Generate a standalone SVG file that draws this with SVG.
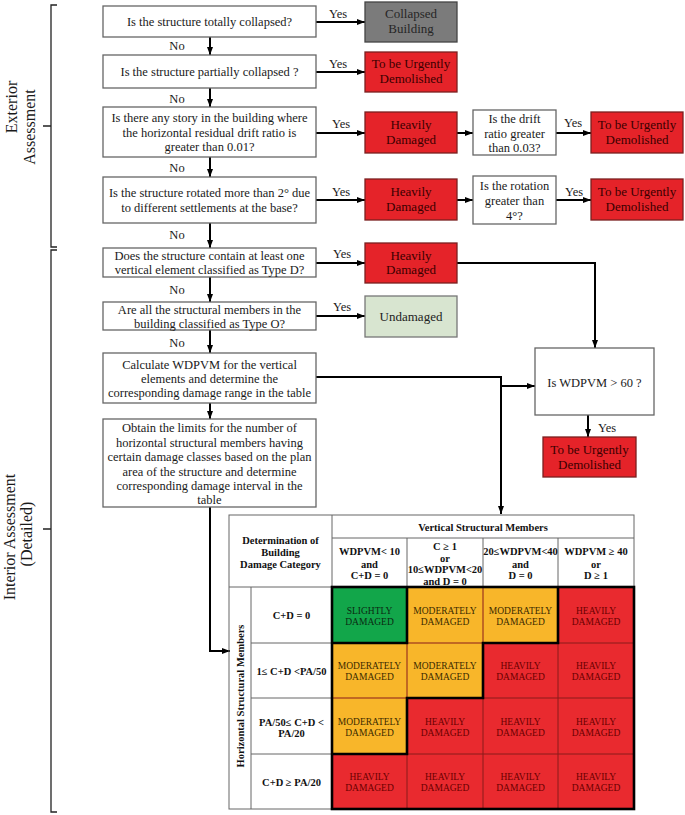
<svg xmlns="http://www.w3.org/2000/svg" width="685" height="815" viewBox="0 0 685 815">
<style>
text{font-family:"Liberation Serif","Times New Roman",serif}
.q{font-size:12.5px;text-anchor:middle;fill:#1a1a1a}
.lbl{font-size:12.5px;text-anchor:middle;fill:#1a1a1a}
.side{font-size:16px;text-anchor:middle;fill:#1a1a1a}
.box{fill:#fff;stroke:#666;stroke-width:1.3}
.red{fill:#e52329;stroke:#7a2020;stroke-width:1.3}
.gray{fill:#7b7b7b;stroke:#444;stroke-width:1.3}
.grn{fill:#d8e5d0;stroke:#777;stroke-width:1.3}
.rt{font-size:13px;text-anchor:middle}
.gt{font-size:13px;text-anchor:middle}
.c{fill:none;stroke:#000;stroke-width:2}
.br{fill:none;stroke:#222;stroke-width:1.3}
.th{font-size:10.5px;font-weight:bold;text-anchor:middle;fill:#111}
.ct{font-size:9.5px;text-anchor:middle}
.thin{fill:none;stroke:#666;stroke-width:1}
.thick{fill:none;stroke:#000;stroke-width:2.6}
</style>
<defs>
<marker id="ah" markerWidth="8" markerHeight="6" refX="8" refY="3" orient="auto" markerUnits="userSpaceOnUse">
<path d="M0,0 L8,3 L0,6 z" fill="#000"/>
</marker>
</defs>

<g id="brackets">
<path class="br" d="M57,5 H51 V247 H57 M43,126 H51"/>
<path class="br" d="M57,250 H51 V812 H57 M43,529 H51"/>
<text class="side" transform="translate(17,107) rotate(-90)">Exterior</text>
<text class="side" transform="translate(35,127) rotate(-90)">Assessment</text>
<text class="side" transform="translate(15,537) rotate(-90)">Interior Assessment</text>
<text class="side" transform="translate(32,534) rotate(-90)">(Detailed)</text>
</g>

<g id="connectors">
<path class="c" marker-end="url(#ah)" d="M210,37 V55"/>
<path class="c" marker-end="url(#ah)" d="M210,88 V107"/>
<path class="c" marker-end="url(#ah)" d="M210,157 V177"/>
<path class="c" marker-end="url(#ah)" d="M210,223 V248"/>
<path class="c" marker-end="url(#ah)" d="M210,277 V302"/>
<path class="c" marker-end="url(#ah)" d="M210,330 V353"/>
<path class="c" marker-end="url(#ah)" d="M210,403 V419"/>
<path class="c" marker-end="url(#ah)" d="M210,507 V651 H230"/>
<path class="c" marker-end="url(#ah)" d="M316,22 H365"/>
<path class="c" marker-end="url(#ah)" d="M316,72 H365"/>
<path class="c" marker-end="url(#ah)" d="M316,133 H365"/>
<path class="c" marker-end="url(#ah)" d="M457,133 H473"/>
<path class="c" marker-end="url(#ah)" d="M556,133 H591"/>
<path class="c" marker-end="url(#ah)" d="M316,200 H365"/>
<path class="c" marker-end="url(#ah)" d="M457,200 H473"/>
<path class="c" marker-end="url(#ah)" d="M556,200 H591"/>
<path class="c" marker-end="url(#ah)" d="M316,263 H365"/>
<path class="c" marker-end="url(#ah)" d="M316,316 H365"/>
<path class="c" marker-end="url(#ah)" d="M457,263 H595 V348"/>
<path class="c" marker-end="url(#ah)" d="M316,377 H501 V514"/>
<path class="c" marker-end="url(#ah)" d="M501,386 H535"/>
<path class="c" marker-end="url(#ah)" d="M588,415 V437"/>
<text class="lbl" x="338" y="18">Yes</text>
<text class="lbl" x="338" y="68">Yes</text>
<text class="lbl" x="341" y="128">Yes</text>
<text class="lbl" x="573" y="127">Yes</text>
<text class="lbl" x="341" y="196">Yes</text>
<text class="lbl" x="574" y="196">Yes</text>
<text class="lbl" x="342" y="258">Yes</text>
<text class="lbl" x="342" y="311">Yes</text>
<text class="lbl" x="607" y="432">Yes</text>
<text class="lbl" x="177" y="50">No</text>
<text class="lbl" x="177" y="103">No</text>
<text class="lbl" x="177" y="172">No</text>
<text class="lbl" x="177" y="239">No</text>
<text class="lbl" x="177" y="294">No</text>
<text class="lbl" x="177" y="347">No</text>
</g>

<g id="q1"><rect class="box" x="103" y="6" width="213" height="31"/>
<text class="q" x="209.5" y="26">Is the structure totally collapsed?</text></g>
<g id="q2"><rect class="box" x="103" y="55" width="213" height="33"/>
<text class="q" x="209.5" y="76">Is the structure partially collapsed ?</text></g>
<g id="q3"><rect class="box" x="103" y="107" width="213" height="50"/>
<text class="q" x="209.5" y="122">Is there any story in the building where</text>
<text class="q" x="209.5" y="136.5">the horizontal residual drift ratio is</text>
<text class="q" x="209.5" y="151">greater than 0.01?</text></g>
<g id="q4"><rect class="box" x="103" y="177" width="213" height="46"/>
<text class="q" x="209.5" y="197">Is the structure rotated more than 2° due</text>
<text class="q" x="209.5" y="211.5">to different settlements at the base?</text></g>
<g id="q5"><rect class="box" x="103" y="248" width="213" height="29"/>
<text class="q" x="209.5" y="259.5">Does the structure contain at least one</text>
<text class="q" x="209.5" y="274">vertical element classified as Type D?</text></g>
<g id="q6"><rect class="box" x="103" y="302" width="213" height="28"/>
<text class="q" x="209.5" y="313.5">Are all the structural members in the</text>
<text class="q" x="209.5" y="327.5">building classified as Type O?</text></g>
<g id="q7"><rect class="box" x="103" y="353" width="213" height="50"/>
<text class="q" x="209.5" y="369">Calculate WDPVM for the vertical</text>
<text class="q" x="209.5" y="382.5">elements and determine the</text>
<text class="q" x="209.5" y="396.5">corresponding damage range in the table</text></g>
<g id="q8"><rect class="box" x="103" y="419" width="213" height="88"/>
<text class="q" x="209.5" y="432">Obtain the limits for the number of</text>
<text class="q" x="209.5" y="446.5">horizontal structural members having</text>
<text class="q" x="209.5" y="461">certain damage classes based on the plan</text>
<text class="q" x="209.5" y="475.5">area of the structure and determine</text>
<text class="q" x="209.5" y="490">corresponding damage interval in the</text>
<text class="q" x="209.5" y="504">table</text></g>

<g id="collapsed"><rect class="gray" x="365" y="2" width="92" height="40"/>
<text class="gt" fill="#262626" x="411" y="18">Collapsed</text><text class="gt" fill="#262626" x="411" y="33">Building</text></g>
<g id="urgent1"><rect class="red" x="365" y="52" width="92" height="40"/>
<text class="rt" fill="#3a0000" x="411" y="68">To be Urgently</text><text class="rt" fill="#3a0000" x="411" y="83">Demolished</text></g>
<g id="heavy1"><rect class="red" x="365" y="112" width="92" height="41"/>
<text class="rt" fill="#3a0000" x="411" y="129">Heavily</text><text class="rt" fill="#3a0000" x="411" y="144">Damaged</text></g>
<g id="drift"><rect class="box" x="473" y="110" width="83" height="45"/>
<text class="q" x="514.5" y="123">Is the drift</text>
<text class="q" x="514.5" y="137.5">ratio greater</text>
<text class="q" x="514.5" y="152">than 0.03?</text></g>
<g id="urgent2"><rect class="red" x="591" y="112" width="92" height="41"/>
<text class="rt" fill="#3a0000" x="637" y="129">To be Urgently</text><text class="rt" fill="#3a0000" x="637" y="144">Demolished</text></g>
<g id="heavy2"><rect class="red" x="365" y="179" width="92" height="41"/>
<text class="rt" fill="#3a0000" x="411" y="196">Heavily</text><text class="rt" fill="#3a0000" x="411" y="211">Damaged</text></g>
<g id="rotation"><rect class="box" x="473" y="176" width="83" height="48"/>
<text class="q" x="514.5" y="190">Is the rotation</text>
<text class="q" x="514.5" y="205">greater than</text>
<text class="q" x="514.5" y="219.5">4°?</text></g>
<g id="urgent3"><rect class="red" x="591" y="179" width="92" height="41"/>
<text class="rt" fill="#3a0000" x="637" y="196">To be Urgently</text><text class="rt" fill="#3a0000" x="637" y="211">Demolished</text></g>
<g id="heavy3"><rect class="red" x="365" y="243" width="92" height="40"/>
<text class="rt" fill="#3a0000" x="411" y="260">Heavily</text><text class="rt" fill="#3a0000" x="411" y="274">Damaged</text></g>
<g id="undamaged"><rect class="grn" x="365" y="296" width="92" height="41"/>
<text class="gt" fill="#222" x="411" y="321">Undamaged</text></g>
<g id="wdpvm60"><rect class="box" x="535" y="348" width="119" height="67"/>
<text class="q" x="594.5" y="387">Is WDPVM &gt; 60 ?</text></g>
<g id="urgent4"><rect class="red" x="543" y="437" width="93" height="40"/>
<text class="rt" fill="#3a0000" x="589.5" y="454">To be Urgently</text><text class="rt" fill="#3a0000" x="589.5" y="469">Demolished</text></g>

<g id="table">
<rect x="332" y="587" width="75" height="56" fill="#12a64a"/>
<rect x="407" y="587" width="151" height="56" fill="#f8b62a"/>
<rect x="558" y="587" width="76" height="56" fill="#e92a2f"/>
<rect x="332" y="643" width="151" height="55" fill="#f8b62a"/>
<rect x="483" y="643" width="151" height="55" fill="#e92a2f"/>
<rect x="332" y="698" width="75" height="56" fill="#f8b62a"/>
<rect x="407" y="698" width="227" height="56" fill="#e92a2f"/>
<rect x="332" y="754" width="302" height="55" fill="#e92a2f"/>
<rect class="thin" x="229" y="515" width="405" height="294"/>
<path class="thin" d="M332,538 H634 M229,587 H634 M332,515 V809 M407,538 V587 M483,538 V587 M558,538 V587 M251,587 V809 M251,643 H332 M251,698 H332 M251,754 H332"/>
<path fill="none" stroke="#8a1a1a" stroke-width="1" d="M407,643 V809 M483,587 V809 M558,587 V809 M332,643 H634 M332,698 H634 M332,754 H634"/>
<path class="thick" d="M332,643 H407 V587 M558,587 V643 H483 V698 H407 V754 H332"/>
<rect class="thick" x="332" y="587" width="302" height="222"/>
<text class="th" x="280.5" y="544">Determination of</text>
<text class="th" x="280.5" y="556">Building</text>
<text class="th" x="280.5" y="568">Damage Category</text>
<text class="th" x="483" y="531">Vertical Structural Members</text>
<text class="th" x="369.5" y="555">WDPVM&lt; 10</text>
<text class="th" x="369.5" y="567.5">and</text>
<text class="th" x="369.5" y="579">C+D = 0</text>
<text class="th" x="445" y="550">C ≥ 1</text>
<text class="th" x="445" y="562">or</text>
<text class="th" x="445" y="573">10≤WDPVM&lt;20</text>
<text class="th" x="445" y="585">and D = 0</text>
<text class="th" x="520.5" y="555">20≤WDPVM&lt;40</text>
<text class="th" x="520.5" y="567.5">and</text>
<text class="th" x="520.5" y="579">D = 0</text>
<text class="th" x="596" y="555">WDPVM ≥ 40</text>
<text class="th" x="596" y="567.5">or</text>
<text class="th" x="596" y="579">D ≥ 1</text>
<text class="th" transform="translate(244,696) rotate(-90)">Horizontal Structural Members</text>
<text class="th" x="291.5" y="619">C+D = 0</text>
<text class="th" x="291.5" y="674.5">1≤ C+D &lt;PA/50</text>
<text class="th" x="291.5" y="725.5">PA/50≤ C+D &lt;</text>
<text class="th" x="291.5" y="737">PA/20</text>
<text class="th" x="291.5" y="785.5">C+D ≥ PA/20</text>
<g>
<text class="ct" fill="#0b2a12" x="369.5" y="614">SLIGHTLY</text><text class="ct" fill="#0b2a12" x="369.5" y="625">DAMAGED</text>
<text class="ct" fill="#3a2a00" x="445" y="614">MODERATELY</text><text class="ct" fill="#3a2a00" x="445" y="625">DAMAGED</text>
<text class="ct" fill="#3a2a00" x="520.5" y="614">MODERATELY</text><text class="ct" fill="#3a2a00" x="520.5" y="625">DAMAGED</text>
<text class="ct" fill="#6a0000" x="596" y="614">HEAVILY</text><text class="ct" fill="#6a0000" x="596" y="625">DAMAGED</text>
<text class="ct" fill="#3a2a00" x="369.5" y="669">MODERATELY</text><text class="ct" fill="#3a2a00" x="369.5" y="680">DAMAGED</text>
<text class="ct" fill="#3a2a00" x="445" y="669">MODERATELY</text><text class="ct" fill="#3a2a00" x="445" y="680">DAMAGED</text>
<text class="ct" fill="#6a0000" x="520.5" y="669">HEAVILY</text><text class="ct" fill="#6a0000" x="520.5" y="680">DAMAGED</text>
<text class="ct" fill="#6a0000" x="596" y="669">HEAVILY</text><text class="ct" fill="#6a0000" x="596" y="680">DAMAGED</text>
<text class="ct" fill="#3a2a00" x="369.5" y="725">MODERATELY</text><text class="ct" fill="#3a2a00" x="369.5" y="736">DAMAGED</text>
<text class="ct" fill="#6a0000" x="445" y="725">HEAVILY</text><text class="ct" fill="#6a0000" x="445" y="736">DAMAGED</text>
<text class="ct" fill="#6a0000" x="520.5" y="725">HEAVILY</text><text class="ct" fill="#6a0000" x="520.5" y="736">DAMAGED</text>
<text class="ct" fill="#6a0000" x="596" y="725">HEAVILY</text><text class="ct" fill="#6a0000" x="596" y="736">DAMAGED</text>
<text class="ct" fill="#6a0000" x="369.5" y="780">HEAVILY</text><text class="ct" fill="#6a0000" x="369.5" y="791">DAMAGED</text>
<text class="ct" fill="#6a0000" x="445" y="780">HEAVILY</text><text class="ct" fill="#6a0000" x="445" y="791">DAMAGED</text>
<text class="ct" fill="#6a0000" x="520.5" y="780">HEAVILY</text><text class="ct" fill="#6a0000" x="520.5" y="791">DAMAGED</text>
<text class="ct" fill="#6a0000" x="596" y="780">HEAVILY</text><text class="ct" fill="#6a0000" x="596" y="791">DAMAGED</text>
</g>
</g>
</svg>
